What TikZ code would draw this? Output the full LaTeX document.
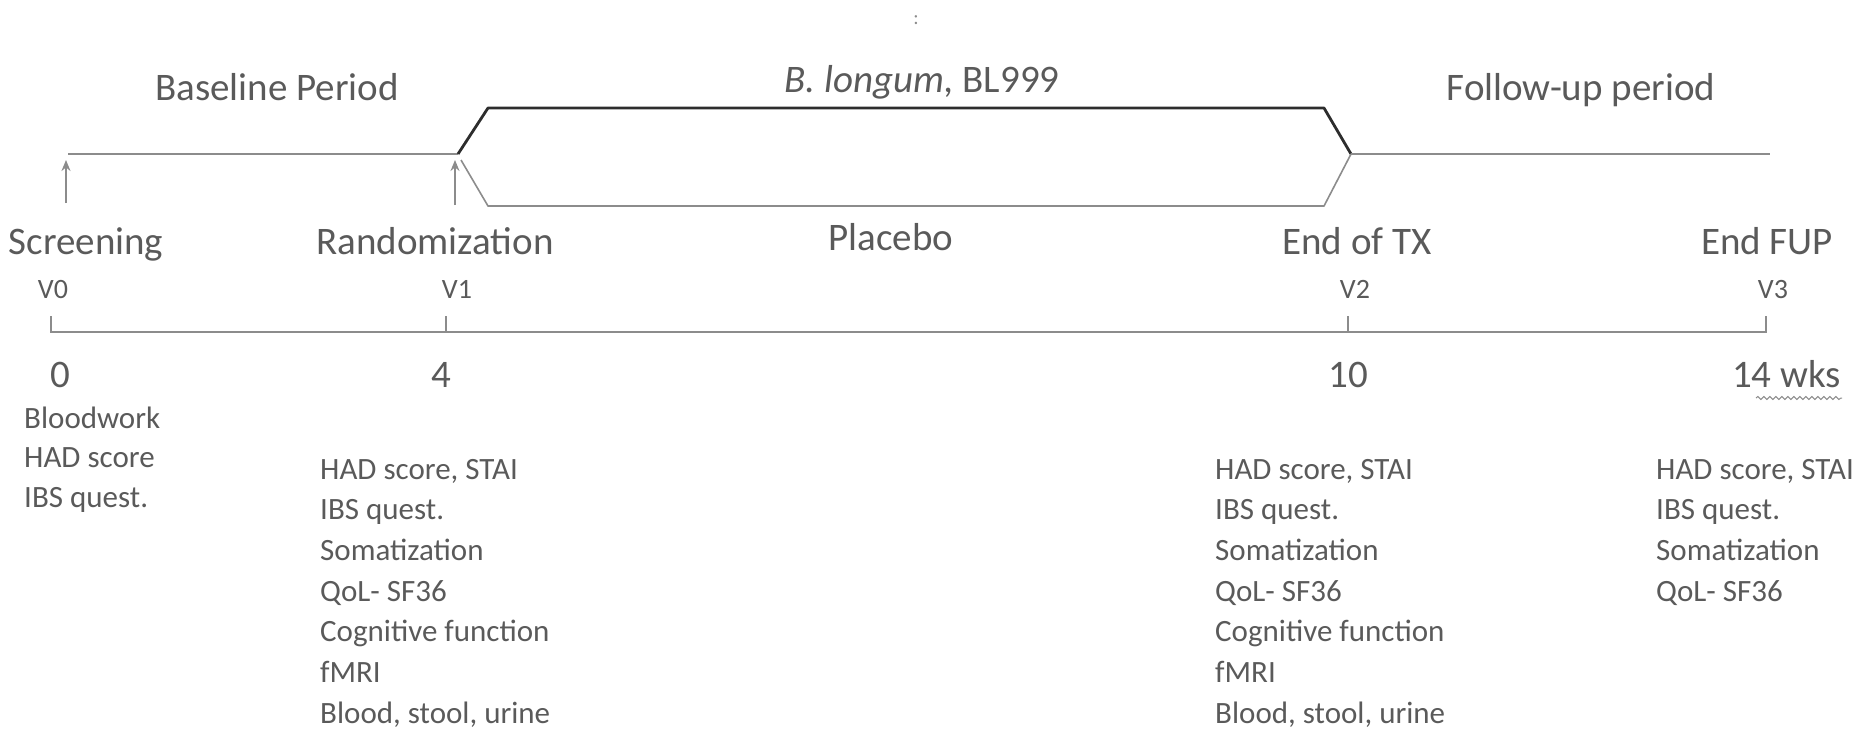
\documentclass[tikz,border=0pt]{standalone}
\usepackage{fontspec}
\setmainfont{Carlito}
\usetikzlibrary{arrows.meta,decorations.pathmorphing}
\definecolor{txt}{RGB}{90,90,90}
\definecolor{ln}{RGB}{140,140,140}
\definecolor{dk}{RGB}{45,45,45}
\begin{document}
\begin{tikzpicture}[x=1pt,y=-1pt,
  big/.style={font=\fontsize{39}{47}\selectfont, text=txt, inner sep=0pt, anchor=mid},
  vlab/.style={font=\fontsize{28}{32}\selectfont, text=txt, inner sep=0pt, anchor=mid},
  lst/.style={font=\fontsize{31}{38}\selectfont, text=txt, inner sep=0pt, anchor=mid west},
  thin/.style={draw=ln, line width=1.6pt},
  arm/.style={draw=dk, line width=2.8pt, line join=round},
  uparrow/.style={draw=ln, line width=1.6pt, -{Stealth[length=11pt,width=9pt]}}]
\useasboundingbox (0,0) rectangle (1875,732);
% top mark
\node[text=ln, font=\fontsize{20}{22}\selectfont, inner sep=0pt] (mark) at (916,20) {:};
% period titles
\node[big] (baseline) at (277,98) {Baseline Period};
\node[big] (drug) at (922,90) {\textit{B. longum,} BL999};
\node[big] (fup) at (1581,98) {Follow-up period};
\node[big] (placebo) at (891,248) {Placebo};
% coordinates of the flow
\coordinate (start) at (68,154);
\coordinate (rand) at (458,154);
\coordinate (upL) at (488,108);
\coordinate (upR) at (1324,108);
\coordinate (endtx) at (1351,154);
\coordinate (loS) at (461,160);
\coordinate (loL) at (488,206);
\coordinate (loR) at (1324,206);
\coordinate (fupend) at (1770,154);
\draw[thin] (start) -- (rand);
\draw[arm] (rand) -- (upL) -- (upR) -- (endtx);
\draw[thin, line join=round] (loS) -- (loL) -- (loR) -- (endtx);
\draw[thin] (endtx) -- (fupend);
% event labels
\node[big] (scr) at (86,252) {Screening};
\node[big] (rnd) at (435,252) {Randomization};
\node[big] (etx) at (1357,252) {End of TX};
\node[big] (efup) at (1767,252) {End FUP};
\coordinate (a0) at (66,203);
\coordinate (a0t) at (66,160);
\coordinate (a1) at (455,205);
\coordinate (a1t) at (455,160);
\draw[uparrow] (a0) -- (a0t);
\draw[uparrow] (a1) -- (a1t);
% visit labels
\node[vlab] (v0) at (53,296) {V0};
\node[vlab] (v1) at (457,296) {V1};
\node[vlab] (v2) at (1355,296) {V2};
\node[vlab] (v3) at (1773,296) {V3};
% timeline
\coordinate (t0) at (51,332);
\coordinate (t1) at (446,332);
\coordinate (t2) at (1348,332);
\coordinate (t3) at (1766,332);
\coordinate (t0u) at (51,316);
\coordinate (t1u) at (446,316);
\coordinate (t2u) at (1348,316);
\coordinate (t3u) at (1766,316);
\draw[thin, line width=1.2pt] (t0u) -- (t0) -- (t3) -- (t3u);
\draw[thin, line width=1.2pt] (t1) -- (t1u);
\draw[thin, line width=1.2pt] (t2) -- (t2u);
% week numbers
\node[big] (n0) at (60,385) {0};
\node[big] (n4) at (441,385) {4};
\node[big] (n10) at (1348,385) {10};
\node[big, anchor=mid west] (n14) at (1732,385) {14 wks};
\coordinate (wk1) at (1756,398);
\coordinate (wk2) at (1842,398);
\draw[draw=ln, line width=1pt, decorate, decoration={snake, amplitude=1.5pt, segment length=6pt}] (wk1) -- (wk2);
% lists
\foreach \t [count=\i] in {Bloodwork, HAD score, IBS quest.}
  \node[lst] (s\i) at (24, 426+\i*39.5-39.5) {\t};
\foreach \t [count=\i] in {{HAD score, STAI}, IBS quest., Somatization, QoL- SF36, Cognitive function, fMRI, {Blood, stool, urine}}
  \node[lst] (r\i) at (320, 477+\i*40.6-40.6) {\t};
\foreach \t [count=\i] in {{HAD score, STAI}, IBS quest., Somatization, QoL- SF36, Cognitive function, fMRI, {Blood, stool, urine}}
  \node[lst] (e\i) at (1215, 477+\i*40.6-40.6) {\t};
\foreach \t [count=\i] in {{HAD score, STAI}, IBS quest., Somatization, QoL- SF36}
  \node[lst] (f\i) at (1656, 477+\i*40.6-40.6) {\t};
\end{tikzpicture}
\end{document}
